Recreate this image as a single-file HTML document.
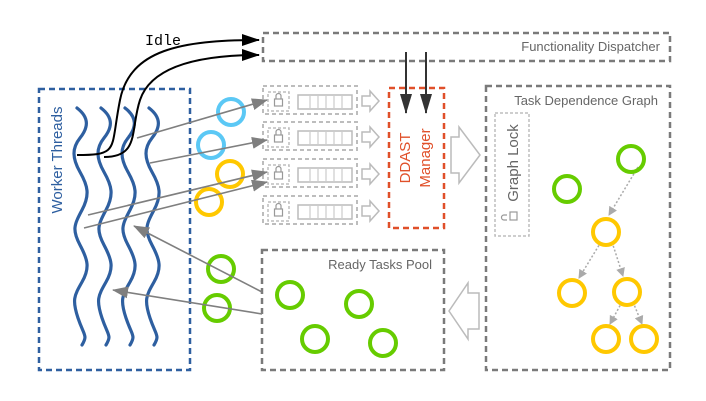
<!DOCTYPE html>
<html><head><meta charset="utf-8"><style>
html,body{margin:0;padding:0;background:#fff;}
svg{display:block;font-family:"Liberation Sans",sans-serif;}
</style></head><body>
<svg width="706" height="401" viewBox="0 0 706 401" xmlns="http://www.w3.org/2000/svg">
<defs>
<marker id="ab" viewBox="0 0 10 10" refX="9" refY="5" markerWidth="6" markerHeight="5" orient="auto" markerUnits="userSpaceOnUse" style="overflow:visible"><path d="M0,0L10,5L0,10z" fill="#000"/></marker>
<marker id="abk" markerWidth="18" markerHeight="12" refX="17" refY="6" orient="auto" markerUnits="userSpaceOnUse"><path d="M0,0L18,6L0,12z" fill="#000"/></marker>
<marker id="adk" markerWidth="12" markerHeight="18" refX="6" refY="17" orient="auto" markerUnits="userSpaceOnUse"><path d="M0,0L12,0L6,18z" fill="#333" transform="rotate(-90 6 9)"/></marker>
<marker id="ag" markerWidth="16" markerHeight="12" refX="15" refY="6" orient="auto" markerUnits="userSpaceOnUse"><path d="M0,0L16,6L0,12z" fill="#7f7f7f"/></marker>
<marker id="al" markerWidth="9" markerHeight="9" refX="8" refY="4.5" orient="auto" markerUnits="userSpaceOnUse"><path d="M0,0L9,4.5L0,9z" fill="#aaa"/></marker>
</defs>

<!-- Functionality dispatcher -->
<rect x="263" y="33" width="407" height="28" fill="none" stroke="#7a7a7a" stroke-width="2.5" stroke-dasharray="6,4"/>
<text x="660" y="51" font-size="13" fill="#666" text-anchor="end">Functionality Dispatcher</text>

<!-- Worker threads -->
<rect x="39" y="89" width="151" height="281" fill="none" stroke="#2e5fa0" stroke-width="2.5" stroke-dasharray="6,4"/>
<text transform="translate(62,160) rotate(-90)" font-size="15" fill="#2e5fa0" text-anchor="middle">Worker Threads</text>
<g fill="none" stroke="#2e5fa0" stroke-width="3.2" stroke-linecap="round">
<path id="w" d="M77,108 C90,118 88,128 80,138 S72,158 80,172 S90,195 82,210 S72,230 80,245 S90,268 82,282 S72,300 78,318 S88,335 82,345"/>
<use href="#w" x="24"/><use href="#w" x="48"/><use href="#w" x="72"/>
</g>

<!-- Idle arrows -->
<path d="M77,155 C120,155 110,150 120,100 C130,50 180,40 259,40" fill="none" stroke="#000" stroke-width="2" marker-end="url(#abk)"/>
<path d="M104,157 C140,157 130,130 140,100 C150,70 190,55 259,55" fill="none" stroke="#000" stroke-width="2" marker-end="url(#abk)"/>
<text x="145" y="45" font-family="Liberation Mono,monospace" font-size="15" fill="#000">Idle</text>

<!-- Queue rows -->
<g id="row">
<rect x="263" y="86" width="94" height="28" fill="none" stroke="#bdbdbd" stroke-width="2" stroke-dasharray="4,3"/>
<rect x="268" y="92" width="21" height="19" fill="none" stroke="#bdbdbd" stroke-width="1.5" stroke-dasharray="3,2"/>
<rect x="274.5" y="99" width="8" height="7" fill="none" stroke="#999" stroke-width="1.2"/>
<path d="M276,99 v-3 a2.5,2.5 0 0 1 5,0 v3" fill="none" stroke="#999" stroke-width="1.2"/>
<rect x="298" y="95" width="54" height="14" fill="none" stroke="#bbb" stroke-width="1.5"/>
<path d="M310,95v14M318,95v14M326,95v14M334,95v14M342,95v14" stroke="#ccc" stroke-width="1.2"/>
<path d="M362,96 h8 v-5 l9,10 l-9,10 v-5 h-8z" fill="#fff" stroke="#bbb" stroke-width="1.5"/>
</g>
<use href="#row" y="36"/><use href="#row" y="73"/><use href="#row" y="110"/>

<!-- DDAST -->
<rect x="389" y="88" width="55" height="140" fill="none" stroke="#e0502a" stroke-width="2.5" stroke-dasharray="6,4"/>
<text transform="translate(410,158) rotate(-90)" font-size="15" fill="#e0502a" text-anchor="middle">DDAST</text>
<text transform="translate(430,158) rotate(-90)" font-size="15" fill="#e0502a" text-anchor="middle">Manager</text>
<line x1="406" y1="52" x2="406" y2="113" stroke="#333" stroke-width="2"/>
<path d="M400,94 L412,94 L406,114z" fill="#333"/>
<line x1="426" y1="52" x2="426" y2="113" stroke="#333" stroke-width="2"/>
<path d="M420,94 L432,94 L426,114z" fill="#333"/>

<!-- big hollow arrows -->
<path d="M451,137 h8 v-10 l21,28 l-21,28 v-10 h-8z" fill="#fff" stroke="#bbb" stroke-width="1.5"/>
<path d="M479,293 h-11 v-10 l-19,28 l19,28 v-10 h11z" fill="#fff" stroke="#bbb" stroke-width="1.5"/>

<!-- TDG -->
<rect x="486" y="86" width="184" height="284" fill="none" stroke="#7a7a7a" stroke-width="2.5" stroke-dasharray="6,4"/>
<text x="658" y="105" font-size="13" fill="#666" text-anchor="end">Task Dependence Graph</text>
<rect x="495" y="113" width="34" height="123" fill="none" stroke="#bdbdbd" stroke-width="1.5" stroke-dasharray="3,2"/>
<text transform="translate(518,163) rotate(-90)" font-size="15" fill="#666" text-anchor="middle">Graph Lock</text>
<rect x="509" y="213" width="8" height="7" fill="none" stroke="#999" stroke-width="1.2" transform="rotate(-90 513 216)"/>
<path d="M507,214 h-3 a2.5,2.5 0 0 1 0,-5 h3" fill="none" stroke="#999" stroke-width="1.2" transform="translate(0,6)"/>

<g stroke="#aaa" stroke-width="1.5" stroke-dasharray="2,2" fill="none">
<line x1="638" y1="167" x2="609" y2="215" marker-end="url(#al)"/>
<line x1="601" y1="242" x2="579" y2="278" marker-end="url(#al)"/>
<line x1="612" y1="242" x2="623" y2="276" marker-end="url(#al)"/>
<line x1="622" y1="302" x2="610" y2="324" marker-end="url(#al)"/>
<line x1="633" y1="302" x2="642" y2="324" marker-end="url(#al)"/>
</g>
<g fill="none" stroke-width="4">
<circle cx="631" cy="159" r="13" stroke="#66cc00"/>
<circle cx="567" cy="189" r="13" stroke="#66cc00"/>
<circle cx="606" cy="232" r="13" stroke="#ffc800"/>
<circle cx="572" cy="293" r="13" stroke="#ffc800"/>
<circle cx="627" cy="292" r="13" stroke="#ffc800"/>
<circle cx="606" cy="339" r="13" stroke="#ffc800"/>
<circle cx="644" cy="339" r="13" stroke="#ffc800"/>
</g>

<!-- Ready Tasks Pool -->
<rect x="262" y="250" width="182" height="120" fill="none" stroke="#7a7a7a" stroke-width="2.5" stroke-dasharray="6,4"/>
<text x="432" y="269" font-size="13" fill="#666" text-anchor="end">Ready Tasks Pool</text>
<g fill="none" stroke-width="4" stroke="#66cc00">
<circle cx="290" cy="295" r="13"/><circle cx="359" cy="304" r="13"/>
<circle cx="315" cy="339" r="13"/><circle cx="383" cy="343" r="13"/>
<circle cx="221" cy="269" r="13"/><circle cx="217" cy="308" r="13"/>
</g>

<!-- outside circles -->
<g fill="none" stroke-width="4">
<circle cx="231" cy="112" r="13" stroke="#5bc8f5"/>
<circle cx="211" cy="145" r="13" stroke="#5bc8f5"/>
<circle cx="230" cy="174" r="13" stroke="#ffc800"/>
<circle cx="209" cy="202" r="13" stroke="#ffc800"/>
</g>

<!-- gray arrows -->
<g stroke="#7f7f7f" stroke-width="1.6" fill="none">
<line x1="137" y1="138" x2="267" y2="100" marker-end="url(#ag)"/>
<line x1="150" y1="163" x2="267" y2="140" marker-end="url(#ag)"/>
<line x1="88" y1="215" x2="267" y2="172" marker-end="url(#ag)"/>
<line x1="84" y1="228" x2="267" y2="182" marker-end="url(#ag)"/>
<line x1="262" y1="292" x2="134" y2="226" marker-end="url(#ag)"/>
<line x1="262" y1="314" x2="113" y2="290" marker-end="url(#ag)"/>
</g>
</svg>
</body></html>
